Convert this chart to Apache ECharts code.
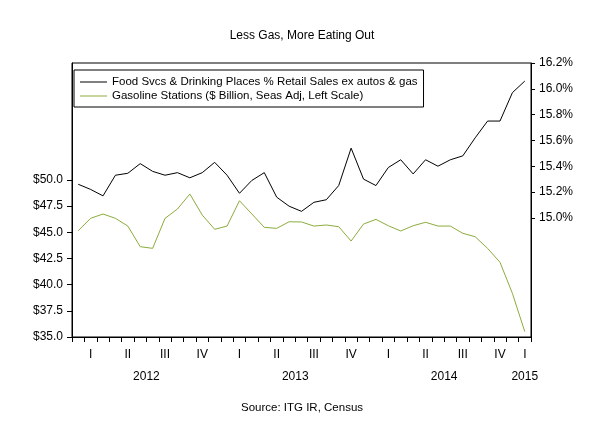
<!DOCTYPE html>
<html>
<head>
<meta charset="utf-8">
<script src="https://cdn.jsdelivr.net/npm/echarts@6/dist/echarts.min.js"></script>
<style>
html,body{margin:0;padding:0;background:#fff;}
#chart{width:604px;height:441px;}
</style>
</head>
<body>
<div id="chart"></div>
<script>
const months = ['2012-01','2012-02','2012-03','2012-04','2012-05','2012-06','2012-07','2012-08','2012-09','2012-10','2012-11','2012-12',
                '2013-01','2013-02','2013-03','2013-04','2013-05','2013-06','2013-07','2013-08','2013-09','2013-10','2013-11','2013-12',
                '2014-01','2014-02','2014-03','2014-04','2014-05','2014-06','2014-07','2014-08','2014-09','2014-10','2014-11','2014-12',
                '2015-01'];
const quarterLabels = ['','I','','','II','','','III','','','IV','',
                       '','I','','','II','','','III','','','IV','',
                       '','I','','','II','','','III','','','IV','',
                       'I'];
const years = ['2012','2013','2014','2015'];
const foodShare = [15.26,15.22,15.17,15.33,15.345,15.42,15.36,15.33,15.35,15.31,15.35,15.43,
                   15.33,15.19,15.29,15.35,15.16,15.09,15.05,15.12,15.14,15.25,15.54,15.30,
                   15.25,15.39,15.45,15.34,15.45,15.40,15.45,15.48,15.62,15.75,15.75,15.97,
                   16.06];
const gasSales = [45.15,46.34,46.75,46.34,45.60,43.63,43.47,46.34,47.23,48.66,46.65,45.29,
                  45.60,48.02,46.75,45.48,45.38,46.01,45.99,45.60,45.70,45.54,44.17,45.79,
                  46.24,45.63,45.13,45.63,45.96,45.60,45.60,44.91,44.58,43.47,42.14,39.17,
                  35.51];
const leftTicks = [35, 37.5, 40, 42.5, 45, 47.5, 50];
const rightTicks = [15.0, 15.2, 15.4, 15.6, 15.8, 16.0, 16.2];
const seriesNames = ['Food Svcs & Drinking Places % Retail Sales ex autos & gas',
                     'Gasoline Stations ($ Billion, Seas Adj, Left Scale)'];

const yearCenters = years.map(y => {
  const idx = months.map((m, i) => m.startsWith(y) ? i : -1).filter(i => i >= 0);
  return (idx[0] + idx[idx.length - 1] + 1) / 2;
});

const FONT = 'Liberation Sans, Arial, sans-serif';
const chart = echarts.init(document.getElementById('chart'), null, {renderer: 'canvas'});
chart.setOption({
  backgroundColor: '#fff',
  animation: false,
  textStyle: {fontFamily: FONT, color: '#000'},
  title: [
    {text: 'Less Gas, More Eating Out', left: 'center', top: 25,
     textStyle: {fontSize: 12, fontWeight: 'normal', color: '#000', fontFamily: FONT}},
    {text: 'Source: ITG IR, Census', left: 'center', top: 397,
     textStyle: {fontSize: 11.5, fontWeight: 'normal', color: '#000', fontFamily: FONT}}
  ],
  legend: {
    orient: 'vertical', left: 74, top: 70, icon: 'rect',
    padding: [5, 6, 4, 6], itemGap: 0, itemWidth: 27, itemHeight: 1,
    borderColor: '#000', borderWidth: 1,
    textStyle: {fontSize: 11.5, lineHeight: 14, color: '#000', fontFamily: FONT},
    data: seriesNames
  },
  grid: {left: 72, right: 73, top: 63, bottom: 104, show: true, borderColor: '#000', borderWidth: 1,
         containLabel: false, outerBoundsMode: 'none'},
  xAxis: [
    {type: 'category', data: months, boundaryGap: true,
     axisLine: {show: true, lineStyle: {color: '#000', width: 1}},
     axisTick: {show: true, interval: 0, length: 5, lineStyle: {color: '#000'}},
     axisLabel: {interval: 0, margin: 12, fontSize: 12, color: '#000', fontFamily: FONT,
                 formatter: (v, i) => quarterLabels[i]},
     splitLine: {show: false}},
    {type: 'value', min: 0, max: months.length, position: 'bottom', offset: 0,
     axisLine: {show: false}, axisTick: {show: false}, splitLine: {show: false},
     axisLabel: {customValues: yearCenters, margin: 34, fontSize: 12, color: '#000', fontFamily: FONT,
                 formatter: v => years[yearCenters.indexOf(v)] || ''}}
  ],
  yAxis: [
    {type: 'value', position: 'left', min: 35, max: 61.18,
     axisLine: {show: true, lineStyle: {color: '#000'}},
     axisTick: {show: true, length: 5, customValues: leftTicks, lineStyle: {color: '#000'}},
     axisLabel: {customValues: leftTicks, margin: 9, fontSize: 12, color: '#000', fontFamily: FONT,
                 formatter: v => '$' + v.toFixed(1)},
     splitLine: {show: false}},
    {type: 'value', position: 'right', min: 14.076, max: 16.2,
     axisLine: {show: true, lineStyle: {color: '#000'}},
     axisTick: {show: true, length: 4, customValues: rightTicks, lineStyle: {color: '#000'}},
     axisLabel: {customValues: rightTicks, margin: 8, fontSize: 12, color: '#000', fontFamily: FONT,
                 formatter: v => v.toFixed(1) + '%'},
     splitLine: {show: false}}
  ],
  series: [
    {name: seriesNames[0], type: 'line', xAxisIndex: 0, yAxisIndex: 1, data: foodShare,
     symbol: 'none', lineStyle: {color: '#000', width: 1}, itemStyle: {color: '#000'}},
    {name: seriesNames[1], type: 'line', xAxisIndex: 0, yAxisIndex: 0, data: gasSales,
     symbol: 'none', lineStyle: {color: '#8cac3c', width: 1}, itemStyle: {color: '#8cac3c'}}
  ]
});
</script>
</body>
</html>
